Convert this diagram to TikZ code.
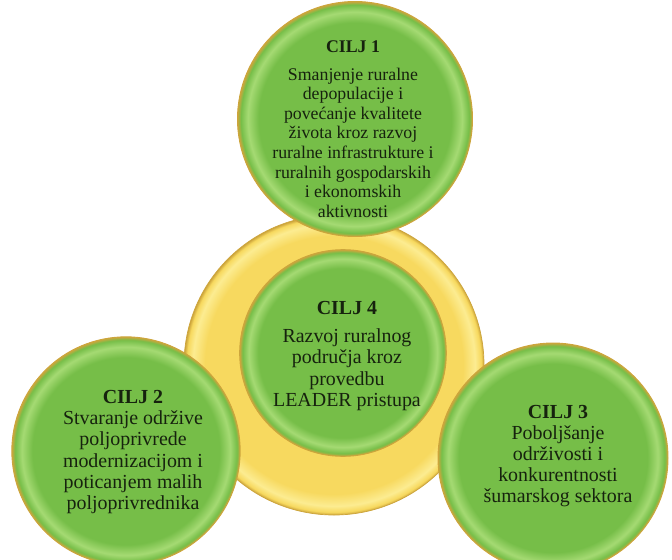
\documentclass[tikz,border=0pt]{standalone}
\usepackage{fontspec}
\setmainfont{Liberation Serif}
\definecolor{goalgreen}{RGB}{118,190,72}
\definecolor{goallight}{RGB}{165,218,115}
\definecolor{goldline}{RGB}{205,165,60}
\definecolor{ringyellow}{RGB}{247,217,95}
\definecolor{ringlight}{RGB}{252,236,145}
\definecolor{goalink}{RGB}{22,34,14}
\pgfdeclareradialshading{goalshade}{\pgfpoint{0bp}{0bp}}{color(0bp)=(goalgreen); color(20.5bp)=(goalgreen); color(22.8bp)=(goallight); color(24.3bp)=(goalgreen); color(25bp)=(goldline); color(50bp)=(goldline)}
\pgfdeclareradialshading{ringshade}{\pgfpoint{0bp}{0bp}}{color(0bp)=(ringyellow); color(21.5bp)=(ringyellow); color(23.5bp)=(ringlight); color(24.5bp)=(ringyellow); color(25bp)=(goldline); color(50bp)=(goldline)}

\begin{document}
\begin{tikzpicture}[x=0.03cm,y=-0.03cm]
\tikzstyle{ring} = [circle, draw=goldline, line width=0.6pt, shading=ringshade]
\tikzstyle{goal} = [circle, draw=goldline, line width=0.8pt, shading=goalshade]
\tikzstyle{goaltext} = [align=center, text=goalink, font=\fontsize{17}{18}\selectfont]
\useasboundingbox (0,0) rectangle (672,560);
\node[ring, minimum size=9cm] (ring) at (334,365) {};
\node[goal, minimum size=6.2cm] (c4) at (343,353) {};
\node[goal, minimum size=7.05cm] (c1) at (355,119) {};
\node[goal, minimum size=6.85cm] (c2) at (126,451) {};
\node[goal, minimum size=6.9cm] (c3) at (553,458) {};
\node[goaltext, font=\fontsize{15.2}{16.7}\selectfont] (t1) at (353,129) {\textbf{CILJ 1}\\[7pt] Smanjenje ruralne\\ depopulacije i\\ povećanje kvalitete\\ života kroz razvoj\\ ruralne infrastrukture i\\ ruralnih gospodarskih\\ i ekonomskih\\ aktivnosti};
\node[goaltext] (t4) at (347,356) {\textbf{CILJ 4}\\[6pt] Razvoj ruralnog\\ područja kroz\\ provedbu\\ LEADER pristupa};
\node[goaltext] (t2) at (133,452) {\textbf{CILJ 2}\\ Stvaranje održive\\ poljoprivrede\\ modernizacijom i\\ poticanjem malih\\ poljoprivrednika};
\node[goaltext] (t3) at (558,456) {\textbf{CILJ 3}\\ Poboljšanje\\ održivosti i\\ konkurentnosti\\ šumarskog sektora};
\end{tikzpicture}
\end{document}
